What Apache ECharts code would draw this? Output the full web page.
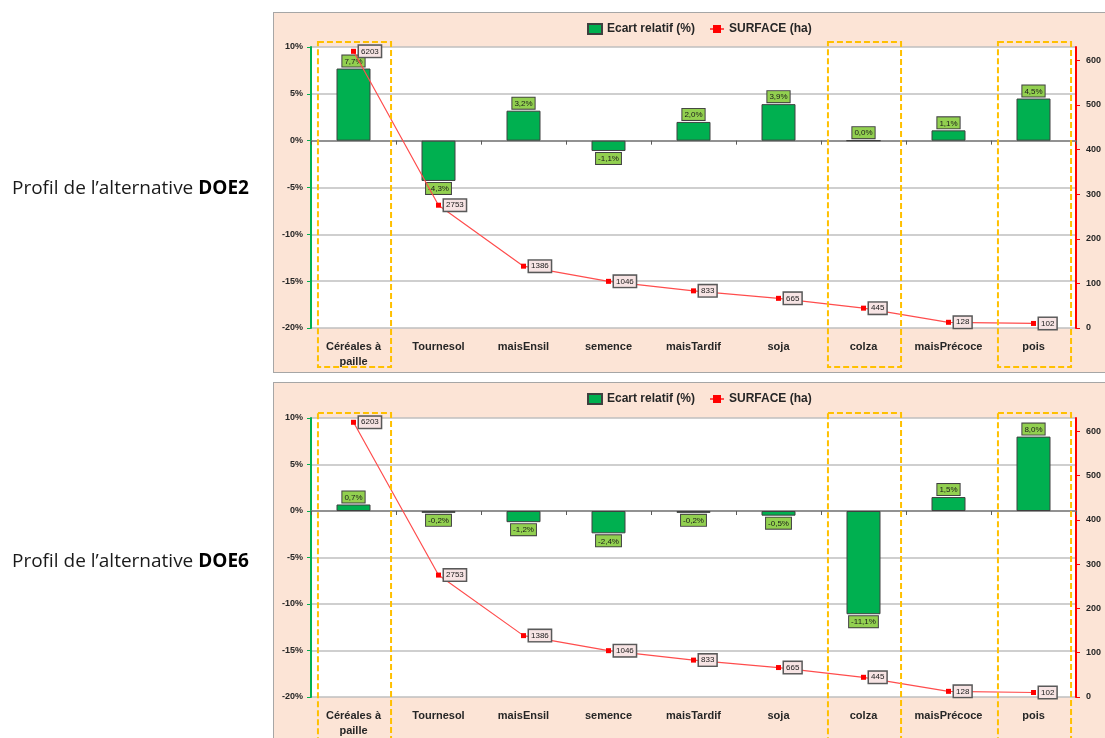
<!DOCTYPE html>
<html>
<head>
<meta charset="utf-8">
<script src="https://cdn.jsdelivr.net/npm/echarts@6/dist/echarts.min.js"></script>
<style>
  html, body { margin: 0; padding: 0; background: #ffffff; }
  #wrap { position: relative; width: 1105px; height: 738px; overflow: hidden; }
  .panel { position: absolute; left: 273px; width: 850px; background: #FCE4D6; border: 1px solid #A6A6A6; box-sizing: border-box; }
  #chart { position: absolute; left: 0; top: 0; width: 1105px; height: 738px; }
</style>
</head>
<body>
<div id="wrap">
  <div class="panel" style="top:12px;height:361px;"></div>
  <div class="panel" style="top:382px;height:380px;"></div>
  <div id="chart"></div>
</div>
<script>
// ---- data ----
const categories = ['Céréales à paille', 'Tournesol', 'maisEnsil', 'semence', 'maisTardif', 'soja', 'colza', 'maisPrécoce', 'pois'];
const ecartDOE2 = [7.7, -4.3, 3.2, -1.1, 2.0, 3.9, 0.0, 1.1, 4.5];
const ecartDOE6 = [0.7, -0.2, -1.2, -2.4, -0.2, -0.5, -11.1, 1.5, 8.0];
const surface = [620.3, 275.3, 138.6, 104.6, 83.3, 66.5, 44.5, 12.8, 10.2];
const leftTicks = { min: -20, max: 10, interval: 5 };
const rightTicks = { min: 0, max: 630, interval: 100 };
const highlighted = [0, 6, 8];
const panelTitles = ['DOE2', 'DOE6'];

const FONT = 'Liberation Sans';
const TXT = '#262626';
const chart = echarts.init(document.getElementById('chart'), null, { renderer: 'canvas' });

const grids = [
  { left: 311, right: 29, top: 47, height: 281 },
  { left: 311, right: 29, top: 418, height: 282 }
];

function catFormatter(v) { return v.replace(' à ', ' à\n'); }

const xAxes = [], yAxes = [], series = [], legends = [];
[ecartDOE2, ecartDOE6].forEach((vals, g) => {
  xAxes.push({
    type: 'category', gridIndex: g, data: categories, position: 'bottom',
    axisLine: { show: false, onZero: false }, axisTick: { show: false },
    axisLabel: { interval: 0, formatter: catFormatter, fontFamily: FONT, fontSize: 11, fontWeight: 'bold', color: TXT, margin: 11, lineHeight: 15 }
  });
  xAxes.push({
    type: 'category', gridIndex: g, data: categories, position: 'bottom',
    axisLine: { show: true, onZero: true, onZeroAxisIndex: g * 2, lineStyle: { color: '#7F7F7F', width: 1.5 } },
    axisTick: { show: true, interval: 0, length: 4, lineStyle: { color: '#595959' } },
    axisLabel: { show: false }
  });
  yAxes.push({
    type: 'value', gridIndex: g, position: 'left', min: leftTicks.min, max: leftTicks.max, interval: leftTicks.interval,
    axisLine: { show: true, lineStyle: { color: '#00B050', width: 2 } },
    axisTick: { show: true, length: 4, lineStyle: { color: '#00B050' } },
    axisLabel: { formatter: v => v + '%', fontFamily: FONT, fontSize: 9, fontWeight: 'bold', color: TXT, margin: 8 },
    splitLine: { show: true, lineStyle: { color: '#BFBFBF', width: 1.5 } }
  });
  yAxes.push({
    type: 'value', gridIndex: g, position: 'right', min: rightTicks.min, max: rightTicks.max, interval: rightTicks.interval,
    axisLine: { show: true, lineStyle: { color: '#FF0000', width: 2 } },
    axisTick: { show: true, length: 4, lineStyle: { color: '#FF0000' } },
    axisLabel: { showMaxLabel: false, fontFamily: FONT, fontSize: 9, fontWeight: 'bold', color: TXT, margin: 10 },
    splitLine: { show: false }
  });
  series.push({
    name: 'Ecart relatif (%)', type: 'bar', xAxisIndex: g * 2, yAxisIndex: g * 2, barWidth: 34,
    itemStyle: { color: '#00B050', borderColor: '#404040', borderWidth: 1 },
    data: vals.map(v => ({ value: v, label: { position: v < 0 ? 'bottom' : 'top' } })),
    label: {
      show: true, distance: 2, formatter: p => p.value.toFixed(1).replace('.', ',') + '%',
      fontFamily: FONT, fontSize: 8, color: '#1a1a1a', backgroundColor: '#92D050',
      borderColor: '#404040', borderWidth: 1, padding: [2, 2, 1, 2]
    },
    z: 2
  });
  series.push({
    name: 'SURFACE (ha)', type: 'line', xAxisIndex: g * 2, yAxisIndex: g * 2 + 1,
    data: surface, symbol: 'rect', symbolSize: 5, showSymbol: true,
    lineStyle: { color: '#FF4D4D', width: 1.2 }, itemStyle: { color: '#FF0000' },
    label: {
      show: true, position: 'right', distance: 3,
      formatter: p => p.value.toFixed(1).replace('.', ''),
      fontFamily: FONT, fontSize: 8, color: '#1a1a1a', backgroundColor: '#F7E4E4',
      borderColor: '#595959', borderWidth: 1.5, padding: [2, 2, 1, 2]
    },
    z: 5
  });
  legends.push({
    left: 582, top: g === 0 ? 18 : 388, itemGap: 14, itemWidth: 14, itemHeight: 10,
    textStyle: { fontFamily: FONT, fontSize: 12, fontWeight: 'bold', color: TXT },
    data: [{ name: 'Ecart relatif (%)', icon: 'rect' }, { name: 'SURFACE (ha)' }],
    selectedMode: false
  });
});

chart.setOption({
  animation: false,
  grid: grids.map(gr => Object.assign({ show: true, backgroundColor: '#FFFFFF', borderWidth: 0 }, gr)),
  legend: legends,
  xAxis: xAxes,
  yAxis: yAxes,
  series: series
});

// decorations: side titles and dashed highlight boxes located from the axes
const graphics = [];
panelTitles.forEach((t, g) => {
  graphics.push({
    type: 'text', left: 12, top: g === 0 ? 179 : 552, z: 10,
    style: {
      text: 'Profil de l’alternative {b|' + t + '}',
      font: '19px "Open Sans"', fill: '#1a1a1a',
      rich: { b: { fontFamily: 'Open Sans', fontSize: 19, fontWeight: 'bold', fill: '#000' } }
    }
  });
  const gr = grids[g];
  const c0 = chart.convertToPixel({ xAxisIndex: g * 2 }, 0);
  const c1 = chart.convertToPixel({ xAxisIndex: g * 2 }, 1);
  const step = c1 - c0;
  highlighted.forEach(i => {
    const cx = chart.convertToPixel({ xAxisIndex: g * 2 }, i) + 1;
    const w = step * 0.86;
    graphics.push({
      type: 'rect', z: 100, silent: true,
      shape: { x: cx - w / 2, y: gr.top - 5, width: w, height: gr.height + 44 },
      style: { fill: 'none', stroke: '#FFC000', lineWidth: 2, lineDash: [6, 3] }
    });
  });
});
chart.setOption({ graphic: graphics });
</script>
</body>
</html>
